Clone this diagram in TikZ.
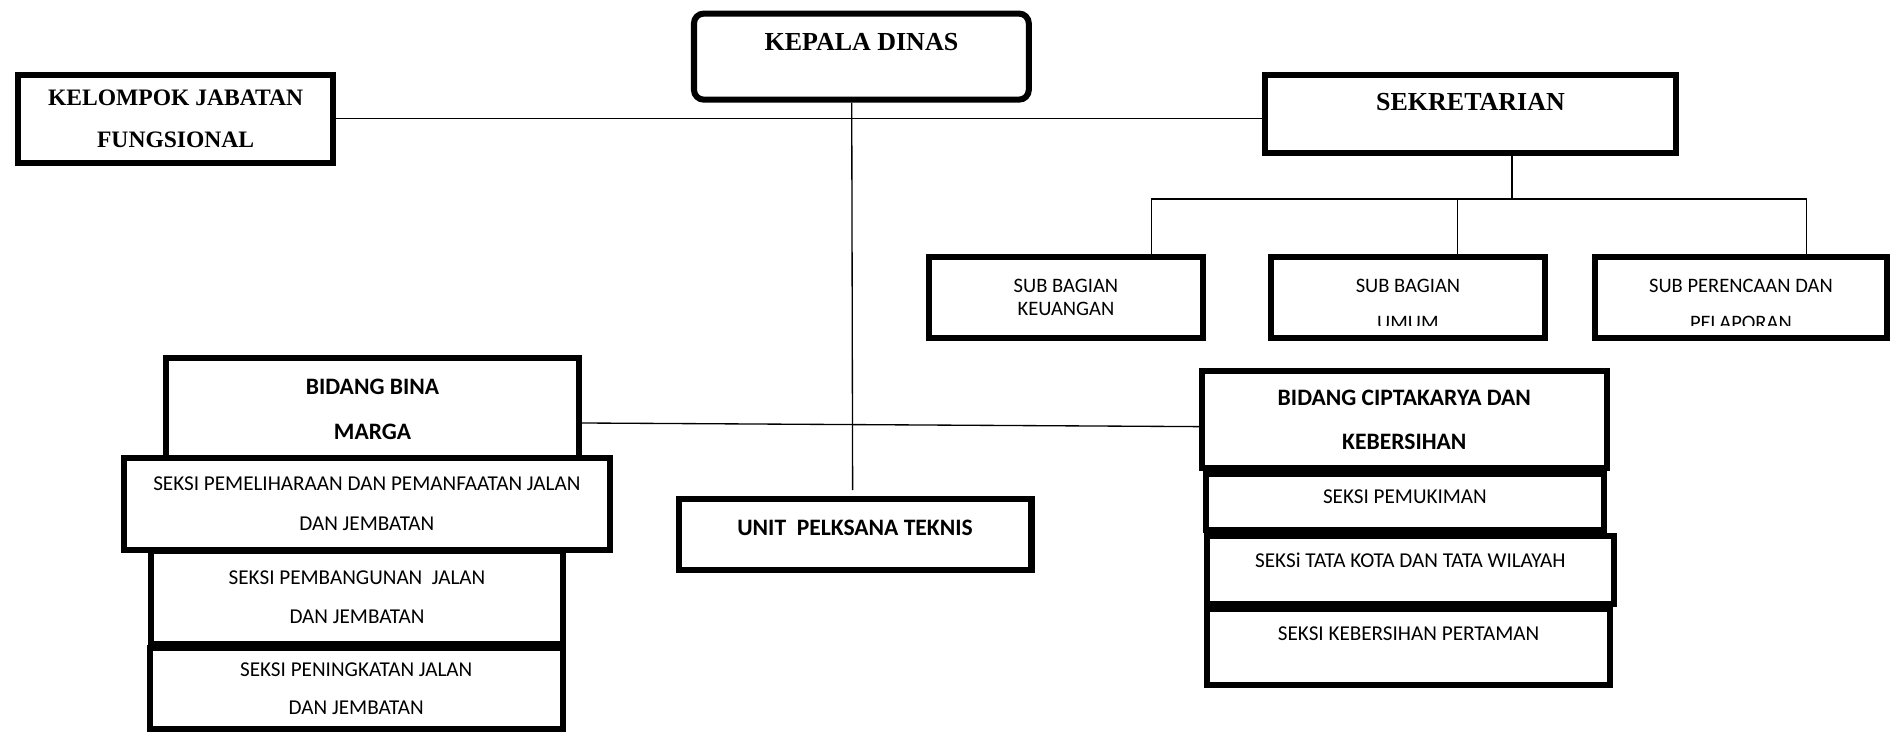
\documentclass[tikz,border=0pt]{standalone}
\usepackage{fontspec}
\setmainfont{Liberation Serif}
\newfontfamily\calib{Carlito}
\newcommand{\lift}[2]{\raisebox{\dimexpr#1pt-.5\fontcharht\font`X\relax}[0pt][0pt]{#2}}
\begin{document}
\begin{tikzpicture}[x=1pt,y=-1pt,
  box/.style={draw,line width=5pt,fill=white,inner sep=0pt,align=center},
  head/.style={box,font=\bfseries\fontsize{21.5}{35}\selectfont},
  bid/.style={box,font=\calib\bfseries\fontsize{19.5}{37}\selectfont},
  seksi/.style={box,font=\calib\fontsize{17.5}{32}\selectfont},
  sub/.style={box,font=\calib\fontsize{17}{19}\selectfont},
  subtext/.style={inner sep=0pt,align=center,font=\calib\fontsize{17}{31}\selectfont},
  link/.style={draw,line width=1.1pt}]
\useasboundingbox (0,0) rectangle (1568,607);

\node[head,rounded corners=8pt,minimum width=277pt,minimum height=71.2pt] (kepala) at (712.75,46.85) {\lift{12.3}{KEPALA DINAS}};
\node[head,font=\bfseries\fontsize{19.5}{35}\selectfont,minimum width=260.8pt,minimum height=73pt] (kelompok) at (145.35,98.25) {KELOMPOK JABATAN\\FUNGSIONAL};
\node[head,minimum width=339.5pt,minimum height=64.8pt] (sek) at (1216.75,94.15) {\lift{9.85}{SEKRETARIAN}};

\node[sub,minimum width=227pt,minimum height=67pt] (keu) at (882,246) {SUB BAGIAN\\KEUANGAN};
\node[sub,minimum width=227pt,minimum height=67pt] (umum) at (1165,246) {};
\node[sub,minimum width=242pt,minimum height=67pt] (pel) at (1440.5,246) {};
\begin{scope}
\clip ([xshift=6pt,yshift=-6pt]umum.north west) rectangle ([xshift=-6pt,yshift=13pt]umum.south east);
\node[subtext] (umumtext) at ([yshift=-6pt]umum.center) {SUB BAGIAN\\UMUM};
\end{scope}
\begin{scope}
\clip ([xshift=6pt,yshift=-6pt]pel.north west) rectangle ([xshift=-6pt,yshift=13pt]pel.south east);
\node[subtext] (peltext) at ([yshift=-6pt]pel.center) {SUB PERENCAAN DAN\\PELAPORAN};
\end{scope}

\node[bid,minimum width=341.5pt,minimum height=84.8pt] (bina) at (308.25,338.5) {BIDANG BINA\\MARGA};
\node[seksi,font=\calib\fontsize{17.5}{33}\selectfont,minimum width=402pt,minimum height=76.2pt] (pemel) at (303.5,417.1) {SEKSI PEMELIHARAAN DAN PEMANFAATAN JALAN\\DAN JEMBATAN};
\node[seksi,minimum width=340.2pt,minimum height=77pt] (pemb) at (295.4,494) {SEKSI PEMBANGUNAN\ \ JALAN\\DAN JEMBATAN};
\node[seksi,minimum width=341.5pt,minimum height=66.6pt] (penin) at (294.75,569.8) {SEKSI PENINGKATAN JALAN\\DAN JEMBATAN};

\node[bid,minimum width=292pt,minimum height=59pt] (unit) at (707.5,442) {\lift{5}{UNIT\ \ PELKSANA TEKNIS}};

\node[bid,minimum width=335pt,minimum height=80.4pt] (cipta) at (1162,347.3) {BIDANG CIPTAKARYA DAN\\KEBERSIHAN};
\node[seksi,minimum width=330pt,minimum height=46pt] (pemuk) at (1162.5,415.5) {\lift{4.5}{SEKSI PEMUKIMAN}};
\node[seksi,minimum width=337pt,minimum height=56pt] (tata) at (1167,471.5) {\lift{7.5}{SEKSi TATA KOTA DAN TATA WILAYAH}};
\node[seksi,minimum width=334pt,minimum height=63pt] (keber) at (1165.5,535) {\lift{11}{SEKSI KEBERSIHAN PERTAMAN}};

\coordinate (vend) at ([xshift=-2pt,yshift=4.5pt]unit.north);
\coordinate (bus) at (1251,164.6);

\path[link] (kelompok.east) -- (kelompok.east -| sek.west);
\path[link] ([xshift=-8pt]kepala.south) -- (vend);
\path[link] ([yshift=-11.5pt]bina.east) -- ([yshift=-5.7pt]cipta.west);
\path[link] ([xshift=34.25pt]sek.south) -- (bus);
\path[link] ([xshift=71pt]keu.north) |- (bus);
\path[link] ([xshift=41pt]umum.north) |- (bus);
\path[link] ([xshift=54.5pt]pel.north) |- (bus);
\end{tikzpicture}
\end{document}
